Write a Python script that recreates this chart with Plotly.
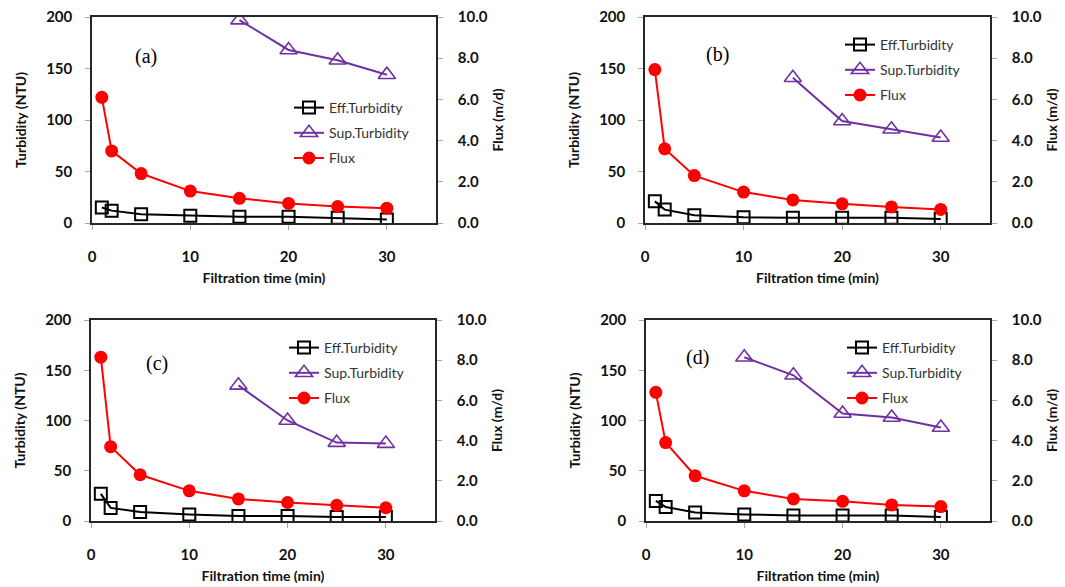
import plotly.graph_objects as go

# ---------------- data ----------------
time = [1, 2, 5, 10, 15, 20, 25, 30]

a_eff = [15, 12, 8.5, 7, 6, 6, 5, 3.5]
a_sup_time = [15, 20, 25, 30]
a_sup = [197, 168, 158, 144]
a_flux = [6.1, 3.5, 2.4, 1.55, 1.2, 0.95, 0.8, 0.72]

b_eff = [21, 13, 7.5, 5.5, 5, 5, 5, 4]
b_sup_time = [15, 20, 25, 30]
b_sup = [141, 99, 91, 83]
b_flux = [7.45, 3.6, 2.3, 1.5, 1.12, 0.93, 0.78, 0.66]

c_eff = [27, 13, 9, 6.5, 5, 5, 4, 4]
c_sup_time = [15, 20, 25, 30]
c_sup = [135, 100, 78, 77]
c_flux = [8.15, 3.7, 2.3, 1.5, 1.1, 0.92, 0.78, 0.66]

d_eff = [20, 14, 8.5, 6.5, 5.5, 5.5, 5.5, 4]
d_sup_time = [10, 15, 20, 25, 30]
d_sup = [163, 145, 107, 103, 93]
d_flux = [6.4, 3.9, 2.25, 1.5, 1.1, 0.98, 0.8, 0.72]

panel_labels = ["(a)", "(b)", "(c)", "(d)"]
x_title = "Filtration time (min)"
y_title = "Turbidity (NTU)"
y2_title = "Flux (m/d)"
names = ["Eff.Turbidity", "Sup.Turbidity", "Flux"]

# ---------------- layout geometry ----------------
W, H = 1065, 587
# plot boxes in window pixels: (left, right, top, bottom)
boxes = [(92, 436, 17, 223), (645, 990, 17, 223), (91, 435, 320, 521), (646, 990, 320, 521)]
legend_pos = [(289, 92), (840, 29), (284, 332), (842, 332)]
label_pos = [(146, 57), (717, 55), (157, 363), (697, 357)]


def fx(p):
    return p / W


def fy(p):
    return 1 - p / H


panels = [
    (a_eff, a_sup_time, a_sup, a_flux),
    (b_eff, b_sup_time, b_sup, b_flux),
    (c_eff, c_sup_time, c_sup, c_flux),
    (d_eff, d_sup_time, d_sup, d_flux),
]

BLACK = "#000000"
PURPLE = "#7030A0"
RED = "#FF0000"
AXCOL = "#262626"
TICKCOL = "#A6A6A6"
tickfont = dict(family="Lato", size=15, color="#111111", weight="bold")
titlefont = dict(family="Lato", size=14, color="#111111")

fig = go.Figure()
layout = dict(
    width=W, height=H,
    margin=dict(l=0, r=0, t=0, b=0, autoexpand=False),
    paper_bgcolor="white", plot_bgcolor="white",
    showlegend=True, hovermode=False,
    annotations=[],
)

for i, (eff, sup_t, sup, flux) in enumerate(panels):
    n = i + 1
    xa = "x" if n == 1 else f"x{n}"
    yl_idx = 2 * i + 1
    yr_idx = 2 * i + 2
    yl = "y" if yl_idx == 1 else f"y{yl_idx}"
    yr = f"y{yr_idx}"
    leg = "legend" if n == 1 else f"legend{n}"

    fig.add_trace(go.Scatter(
        x=time, y=eff, xaxis=xa, yaxis=yl, name=names[0], legend=leg,
        legendgroup=f"g{n}a", mode="lines+markers",
        line=dict(color=BLACK, width=2),
        marker=dict(symbol="square-open", size=12, color=BLACK, line=dict(width=2, color=BLACK)),
    ))
    fig.add_trace(go.Scatter(
        x=sup_t, y=sup, xaxis=xa, yaxis=yl, name=names[1], legend=leg,
        legendgroup=f"g{n}b", mode="lines+markers",
        line=dict(color=PURPLE, width=2),
        marker=dict(symbol="triangle-up-open", size=15, color=PURPLE, line=dict(width=1.6, color=PURPLE)),
    ))
    fig.add_trace(go.Scatter(
        x=time, y=flux, xaxis=xa, yaxis=yr, name=names[2], legend=leg,
        legendgroup=f"g{n}c", mode="lines+markers",
        line=dict(color=RED, width=2),
        marker=dict(symbol="circle", size=13, color=RED),
    ))

    l, r, t, b = boxes[i]
    xdom = [fx(l), fx(r)]
    ydom = [fy(b), fy(t)]

    xkey = "xaxis" if n == 1 else f"xaxis{n}"
    ylkey = "yaxis" if yl_idx == 1 else f"yaxis{yl_idx}"
    yrkey = f"yaxis{yr_idx}"

    layout[xkey] = dict(
        domain=xdom, anchor=yl, range=[0, 35], tickvals=[0, 10, 20, 30],
        showline=True, linecolor=AXCOL, linewidth=1.5, mirror=True,
        ticks="outside", ticklen=5, tickcolor=TICKCOL, tickwidth=1,
        ticklabelstandoff=14,
        showgrid=False, zeroline=False, tickfont=tickfont, automargin=False,
        title=dict(text=f"<b>{x_title}</b>", font=titlefont, standoff=9),
    )
    layout[ylkey] = dict(
        domain=ydom, anchor=xa, range=[0, 200], tickvals=[0, 50, 100, 150, 200],
        showline=True, linecolor=AXCOL, linewidth=1.5,
        ticks="outside", ticklen=5, tickcolor=TICKCOL, tickwidth=1,
        ticklabelstandoff=10,
        showgrid=False, zeroline=False, tickfont=tickfont, automargin=False,
        title=dict(text=f"<b>{y_title}</b>", font=titlefont, standoff=16),
    )
    layout[yrkey] = dict(
        domain=ydom, anchor=xa, overlaying=yl, side="right", range=[0, 10],
        tickvals=[0, 2, 4, 6, 8, 10], tickformat=".1f",
        showline=True, linecolor=AXCOL, linewidth=1.5,
        ticks="outside", ticklen=5, tickcolor=TICKCOL, tickwidth=1,
        ticklabelstandoff=12,
        showgrid=False, zeroline=False, tickfont=tickfont, automargin=False,
        title=dict(text=f"<b>{y2_title}</b>", font=titlefont, standoff=6),
    )

    lx, ly = legend_pos[i]
    layout[leg] = dict(
        x=fx(lx), y=fy(ly), xanchor="left", yanchor="top",
        bgcolor="rgba(0,0,0,0)", borderwidth=0,
        font=dict(family="Lato", size=14, color="#333333"),
        traceorder="grouped", tracegroupgap=4, itemwidth=30,
    )

    px, py = label_pos[i]
    layout["annotations"].append(dict(
        x=fx(px), y=fy(py), xref="paper", yref="paper",
        text=panel_labels[i], showarrow=False,
        font=dict(family="Liberation Serif", size=20, color="#000000"),
        xanchor="center", yanchor="middle",
    ))

fig.update_layout(**layout)
fig.write_html(
    "out.html",
    config={"displayModeBar": False},
    post_script="document.body.style.margin='0';document.body.style.overflow='hidden';",
)
